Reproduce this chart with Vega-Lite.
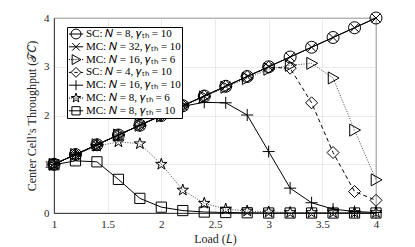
{
  "$schema": "https://vega.github.io/schema/vega-lite/v6.json",
  "width": 322,
  "height": 195,
  "autosize": "none",
  "padding": {"left": 54, "top": 18, "right": 39, "bottom": 34},
  "background": "white",
  "config": {
    "view": {"stroke": "#262626", "strokeWidth": 0.8},
    "font": "Liberation Serif",
    "axis": {
      "labelFont": "Liberation Serif",
      "titleFont": "Liberation Serif",
      "labelFontSize": 11,
      "titleFontSize": 12,
      "titleFontWeight": "normal",
      "labelColor": "#262626",
      "titleColor": "#262626",
      "domainColor": "#262626",
      "domainWidth": 0.8,
      "gridColor": "#dedede",
      "gridWidth": 0.6,
      "ticks": false,
      "labelPadding": 5,
      "format": "~g"
    }
  },
  "resolve": {"scale": {"shape": "independent"}, "legend": {"shape": "independent"}},
  "data": {
    "values": [
      {"s": "SC: 𝑁 = 8, 𝛾ₜₕ = 10", "L": 1.0, "T": 1.0},
      {"s": "SC: 𝑁 = 8, 𝛾ₜₕ = 10", "L": 1.2, "T": 1.2},
      {"s": "SC: 𝑁 = 8, 𝛾ₜₕ = 10", "L": 1.4, "T": 1.4},
      {"s": "SC: 𝑁 = 8, 𝛾ₜₕ = 10", "L": 1.6, "T": 1.6},
      {"s": "SC: 𝑁 = 8, 𝛾ₜₕ = 10", "L": 1.8, "T": 1.8},
      {"s": "SC: 𝑁 = 8, 𝛾ₜₕ = 10", "L": 2.0, "T": 2.0},
      {"s": "SC: 𝑁 = 8, 𝛾ₜₕ = 10", "L": 2.2, "T": 2.2},
      {"s": "SC: 𝑁 = 8, 𝛾ₜₕ = 10", "L": 2.4, "T": 2.4},
      {"s": "SC: 𝑁 = 8, 𝛾ₜₕ = 10", "L": 2.6, "T": 2.6},
      {"s": "SC: 𝑁 = 8, 𝛾ₜₕ = 10", "L": 2.8, "T": 2.8},
      {"s": "SC: 𝑁 = 8, 𝛾ₜₕ = 10", "L": 3.0, "T": 3.0},
      {"s": "SC: 𝑁 = 8, 𝛾ₜₕ = 10", "L": 3.2, "T": 3.2},
      {"s": "SC: 𝑁 = 8, 𝛾ₜₕ = 10", "L": 3.4, "T": 3.4},
      {"s": "SC: 𝑁 = 8, 𝛾ₜₕ = 10", "L": 3.6, "T": 3.6},
      {"s": "SC: 𝑁 = 8, 𝛾ₜₕ = 10", "L": 3.8, "T": 3.8},
      {"s": "SC: 𝑁 = 8, 𝛾ₜₕ = 10", "L": 4.0, "T": 4.0},
      {"s": "MC: 𝑁 = 32, 𝛾ₜₕ = 10", "L": 1.0, "T": 1.0},
      {"s": "MC: 𝑁 = 32, 𝛾ₜₕ = 10", "L": 1.2, "T": 1.2},
      {"s": "MC: 𝑁 = 32, 𝛾ₜₕ = 10", "L": 1.4, "T": 1.4},
      {"s": "MC: 𝑁 = 32, 𝛾ₜₕ = 10", "L": 1.6, "T": 1.6},
      {"s": "MC: 𝑁 = 32, 𝛾ₜₕ = 10", "L": 1.8, "T": 1.8},
      {"s": "MC: 𝑁 = 32, 𝛾ₜₕ = 10", "L": 2.0, "T": 2.0},
      {"s": "MC: 𝑁 = 32, 𝛾ₜₕ = 10", "L": 2.2, "T": 2.2},
      {"s": "MC: 𝑁 = 32, 𝛾ₜₕ = 10", "L": 2.4, "T": 2.4},
      {"s": "MC: 𝑁 = 32, 𝛾ₜₕ = 10", "L": 2.6, "T": 2.6},
      {"s": "MC: 𝑁 = 32, 𝛾ₜₕ = 10", "L": 2.8, "T": 2.8},
      {"s": "MC: 𝑁 = 32, 𝛾ₜₕ = 10", "L": 3.0, "T": 3.0},
      {"s": "MC: 𝑁 = 32, 𝛾ₜₕ = 10", "L": 3.2, "T": 3.2},
      {"s": "MC: 𝑁 = 32, 𝛾ₜₕ = 10", "L": 3.4, "T": 3.4},
      {"s": "MC: 𝑁 = 32, 𝛾ₜₕ = 10", "L": 3.6, "T": 3.6},
      {"s": "MC: 𝑁 = 32, 𝛾ₜₕ = 10", "L": 3.8, "T": 3.8},
      {"s": "MC: 𝑁 = 32, 𝛾ₜₕ = 10", "L": 4.0, "T": 4.0},
      {"s": "MC: 𝑁 = 16, 𝛾ₜₕ = 6", "L": 1.0, "T": 1.0},
      {"s": "MC: 𝑁 = 16, 𝛾ₜₕ = 6", "L": 1.2, "T": 1.2},
      {"s": "MC: 𝑁 = 16, 𝛾ₜₕ = 6", "L": 1.4, "T": 1.4},
      {"s": "MC: 𝑁 = 16, 𝛾ₜₕ = 6", "L": 1.6, "T": 1.6},
      {"s": "MC: 𝑁 = 16, 𝛾ₜₕ = 6", "L": 1.8, "T": 1.8},
      {"s": "MC: 𝑁 = 16, 𝛾ₜₕ = 6", "L": 2.0, "T": 1.99},
      {"s": "MC: 𝑁 = 16, 𝛾ₜₕ = 6", "L": 2.2, "T": 2.19},
      {"s": "MC: 𝑁 = 16, 𝛾ₜₕ = 6", "L": 2.4, "T": 2.38},
      {"s": "MC: 𝑁 = 16, 𝛾ₜₕ = 6", "L": 2.6, "T": 2.58},
      {"s": "MC: 𝑁 = 16, 𝛾ₜₕ = 6", "L": 2.8, "T": 2.76},
      {"s": "MC: 𝑁 = 16, 𝛾ₜₕ = 6", "L": 3.0, "T": 2.95},
      {"s": "MC: 𝑁 = 16, 𝛾ₜₕ = 6", "L": 3.2, "T": 3.03},
      {"s": "MC: 𝑁 = 16, 𝛾ₜₕ = 6", "L": 3.4, "T": 3.07},
      {"s": "MC: 𝑁 = 16, 𝛾ₜₕ = 6", "L": 3.6, "T": 2.77},
      {"s": "MC: 𝑁 = 16, 𝛾ₜₕ = 6", "L": 3.8, "T": 1.7},
      {"s": "MC: 𝑁 = 16, 𝛾ₜₕ = 6", "L": 4.0, "T": 0.68},
      {"s": "SC: 𝑁 = 4, 𝛾ₜₕ = 10", "L": 1.0, "T": 1.0},
      {"s": "SC: 𝑁 = 4, 𝛾ₜₕ = 10", "L": 1.2, "T": 1.2},
      {"s": "SC: 𝑁 = 4, 𝛾ₜₕ = 10", "L": 1.4, "T": 1.4},
      {"s": "SC: 𝑁 = 4, 𝛾ₜₕ = 10", "L": 1.6, "T": 1.6},
      {"s": "SC: 𝑁 = 4, 𝛾ₜₕ = 10", "L": 1.8, "T": 1.8},
      {"s": "SC: 𝑁 = 4, 𝛾ₜₕ = 10", "L": 2.0, "T": 2.0},
      {"s": "SC: 𝑁 = 4, 𝛾ₜₕ = 10", "L": 2.2, "T": 2.2},
      {"s": "SC: 𝑁 = 4, 𝛾ₜₕ = 10", "L": 2.4, "T": 2.4},
      {"s": "SC: 𝑁 = 4, 𝛾ₜₕ = 10", "L": 2.6, "T": 2.6},
      {"s": "SC: 𝑁 = 4, 𝛾ₜₕ = 10", "L": 2.8, "T": 2.8},
      {"s": "SC: 𝑁 = 4, 𝛾ₜₕ = 10", "L": 3.0, "T": 2.99},
      {"s": "SC: 𝑁 = 4, 𝛾ₜₕ = 10", "L": 3.2, "T": 2.97},
      {"s": "SC: 𝑁 = 4, 𝛾ₜₕ = 10", "L": 3.4, "T": 2.26},
      {"s": "SC: 𝑁 = 4, 𝛾ₜₕ = 10", "L": 3.6, "T": 1.24},
      {"s": "SC: 𝑁 = 4, 𝛾ₜₕ = 10", "L": 3.8, "T": 0.44},
      {"s": "SC: 𝑁 = 4, 𝛾ₜₕ = 10", "L": 4.0, "T": 0.26},
      {"s": "MC: 𝑁 = 16, 𝛾ₜₕ = 10", "L": 1.0, "T": 1.0},
      {"s": "MC: 𝑁 = 16, 𝛾ₜₕ = 10", "L": 1.2, "T": 1.2},
      {"s": "MC: 𝑁 = 16, 𝛾ₜₕ = 10", "L": 1.4, "T": 1.4},
      {"s": "MC: 𝑁 = 16, 𝛾ₜₕ = 10", "L": 1.6, "T": 1.6},
      {"s": "MC: 𝑁 = 16, 𝛾ₜₕ = 10", "L": 1.8, "T": 1.8},
      {"s": "MC: 𝑁 = 16, 𝛾ₜₕ = 10", "L": 2.0, "T": 2.0},
      {"s": "MC: 𝑁 = 16, 𝛾ₜₕ = 10", "L": 2.2, "T": 2.19},
      {"s": "MC: 𝑁 = 16, 𝛾ₜₕ = 10", "L": 2.4, "T": 2.27},
      {"s": "MC: 𝑁 = 16, 𝛾ₜₕ = 10", "L": 2.6, "T": 2.26},
      {"s": "MC: 𝑁 = 16, 𝛾ₜₕ = 10", "L": 2.8, "T": 2.01},
      {"s": "MC: 𝑁 = 16, 𝛾ₜₕ = 10", "L": 3.0, "T": 1.26},
      {"s": "MC: 𝑁 = 16, 𝛾ₜₕ = 10", "L": 3.2, "T": 0.51},
      {"s": "MC: 𝑁 = 16, 𝛾ₜₕ = 10", "L": 3.4, "T": 0.21},
      {"s": "MC: 𝑁 = 16, 𝛾ₜₕ = 10", "L": 3.6, "T": 0.08},
      {"s": "MC: 𝑁 = 16, 𝛾ₜₕ = 10", "L": 3.8, "T": 0.03},
      {"s": "MC: 𝑁 = 16, 𝛾ₜₕ = 10", "L": 4.0, "T": 0.01},
      {"s": "MC: 𝑁 = 8, 𝛾ₜₕ = 6", "L": 1.0, "T": 1.0},
      {"s": "MC: 𝑁 = 8, 𝛾ₜₕ = 6", "L": 1.2, "T": 1.19},
      {"s": "MC: 𝑁 = 8, 𝛾ₜₕ = 6", "L": 1.4, "T": 1.37},
      {"s": "MC: 𝑁 = 8, 𝛾ₜₕ = 6", "L": 1.6, "T": 1.46},
      {"s": "MC: 𝑁 = 8, 𝛾ₜₕ = 6", "L": 1.8, "T": 1.42},
      {"s": "MC: 𝑁 = 8, 𝛾ₜₕ = 6", "L": 2.0, "T": 1.0},
      {"s": "MC: 𝑁 = 8, 𝛾ₜₕ = 6", "L": 2.2, "T": 0.47},
      {"s": "MC: 𝑁 = 8, 𝛾ₜₕ = 6", "L": 2.4, "T": 0.2},
      {"s": "MC: 𝑁 = 8, 𝛾ₜₕ = 6", "L": 2.6, "T": 0.08},
      {"s": "MC: 𝑁 = 8, 𝛾ₜₕ = 6", "L": 2.8, "T": 0.04},
      {"s": "MC: 𝑁 = 8, 𝛾ₜₕ = 6", "L": 3.0, "T": 0.02},
      {"s": "MC: 𝑁 = 8, 𝛾ₜₕ = 6", "L": 3.2, "T": 0.01},
      {"s": "MC: 𝑁 = 8, 𝛾ₜₕ = 6", "L": 3.4, "T": 0.01},
      {"s": "MC: 𝑁 = 8, 𝛾ₜₕ = 6", "L": 3.6, "T": 0.01},
      {"s": "MC: 𝑁 = 8, 𝛾ₜₕ = 6", "L": 3.8, "T": 0.01},
      {"s": "MC: 𝑁 = 8, 𝛾ₜₕ = 6", "L": 4.0, "T": 0.01},
      {"s": "MC: 𝑁 = 8, 𝛾ₜₕ = 10", "L": 1.0, "T": 0.99},
      {"s": "MC: 𝑁 = 8, 𝛾ₜₕ = 10", "L": 1.2, "T": 1.07},
      {"s": "MC: 𝑁 = 8, 𝛾ₜₕ = 10", "L": 1.4, "T": 1.05},
      {"s": "MC: 𝑁 = 8, 𝛾ₜₕ = 10", "L": 1.6, "T": 0.69},
      {"s": "MC: 𝑁 = 8, 𝛾ₜₕ = 10", "L": 1.8, "T": 0.3},
      {"s": "MC: 𝑁 = 8, 𝛾ₜₕ = 10", "L": 2.0, "T": 0.12},
      {"s": "MC: 𝑁 = 8, 𝛾ₜₕ = 10", "L": 2.2, "T": 0.05},
      {"s": "MC: 𝑁 = 8, 𝛾ₜₕ = 10", "L": 2.4, "T": 0.02},
      {"s": "MC: 𝑁 = 8, 𝛾ₜₕ = 10", "L": 2.6, "T": 0.01},
      {"s": "MC: 𝑁 = 8, 𝛾ₜₕ = 10", "L": 2.8, "T": 0.005},
      {"s": "MC: 𝑁 = 8, 𝛾ₜₕ = 10", "L": 3.0, "T": 0.0},
      {"s": "MC: 𝑁 = 8, 𝛾ₜₕ = 10", "L": 3.2, "T": 0.0},
      {"s": "MC: 𝑁 = 8, 𝛾ₜₕ = 10", "L": 3.4, "T": 0.0},
      {"s": "MC: 𝑁 = 8, 𝛾ₜₕ = 10", "L": 3.6, "T": 0.0},
      {"s": "MC: 𝑁 = 8, 𝛾ₜₕ = 10", "L": 3.8, "T": 0.0},
      {"s": "MC: 𝑁 = 8, 𝛾ₜₕ = 10", "L": 4.0, "T": 0.0}
    ]
  },
  "encoding": {
    "x": {
      "field": "L",
      "type": "quantitative",
      "scale": {"domain": [1, 4], "nice": false, "zero": false},
      "axis": {"values": [1, 1.5, 2, 2.5, 3, 3.5, 4], "title": "Load (𝐿)", "titlePadding": 4, "labelFlush": false}
    },
    "y": {
      "field": "T",
      "type": "quantitative",
      "scale": {"domain": [0, 4], "nice": false},
      "axis": {"values": [0, 1, 2, 3, 4], "title": "Center Cell’s Throughput (𝒯𝐶)", "titlePadding": 5, "labelFlush": false}
    }
  },
  "layer": [
    {
      "transform": [{"filter": {"field": "s", "oneOf": ["SC: 𝑁 = 8, 𝛾ₜₕ = 10", "MC: 𝑁 = 32, 𝛾ₜₕ = 10", "MC: 𝑁 = 16, 𝛾ₜₕ = 10", "MC: 𝑁 = 8, 𝛾ₜₕ = 10"]}}],
      "mark": {"type": "line", "color": "black", "strokeWidth": 1},
      "encoding": {"detail": {"field": "s", "type": "nominal"}}
    },
    {
      "transform": [{"filter": {"field": "s", "oneOf": ["MC: 𝑁 = 16, 𝛾ₜₕ = 6", "MC: 𝑁 = 8, 𝛾ₜₕ = 6"]}}],
      "mark": {"type": "line", "color": "#333333", "strokeWidth": 0.9, "strokeDash": [1, 1.5]},
      "encoding": {"detail": {"field": "s", "type": "nominal"}}
    },
    {
      "transform": [{"filter": {"field": "s", "equal": "SC: 𝑁 = 4, 𝛾ₜₕ = 10"}}],
      "mark": {"type": "line", "color": "black", "strokeWidth": 1, "strokeDash": [4, 3]},
      "encoding": {"detail": {"field": "s", "type": "nominal"}}
    },
    {
      "mark": {"type": "point", "filled": false, "color": "black", "strokeWidth": 1, "size": 144, "opacity": 1},
      "encoding": {
        "shape": {
          "field": "s",
          "type": "nominal",
          "scale": {
            "domain": ["MC: 𝑁 = 8, 𝛾ₜₕ = 10", "MC: 𝑁 = 8, 𝛾ₜₕ = 6", "MC: 𝑁 = 16, 𝛾ₜₕ = 10", "SC: 𝑁 = 4, 𝛾ₜₕ = 10", "MC: 𝑁 = 16, 𝛾ₜₕ = 6", "MC: 𝑁 = 32, 𝛾ₜₕ = 10", "SC: 𝑁 = 8, 𝛾ₜₕ = 10"],
            "range": [
              "M-0.85,-0.85H0.85V0.85H-0.85Z",
              "M0,-1L0.2245,-0.309L0.951,-0.309L0.363,0.118L0.588,0.809L0,0.382L-0.588,0.809L-0.363,0.118L-0.951,-0.309L-0.2245,-0.309Z",
              "M-1,0H1M0,-1V1",
              "M0,-1L1,0L0,1L-1,0Z",
              "M-0.8,-1L1,0L-0.8,1Z",
              "M-0.75,-0.75L0.75,0.75M-0.75,0.75L0.75,-0.75",
              "circle"
            ]
          },
          "legend": null
        }
      }
    },
    {
      "mark": {"type": "point", "filled": false, "color": "black", "strokeWidth": 1, "size": 121, "opacity": 0},
      "encoding": {
        "shape": {
          "field": "s",
          "type": "nominal",
          "scale": {
            "domain": ["SC: 𝑁 = 8, 𝛾ₜₕ = 10", "MC: 𝑁 = 32, 𝛾ₜₕ = 10", "MC: 𝑁 = 16, 𝛾ₜₕ = 6", "SC: 𝑁 = 4, 𝛾ₜₕ = 10", "MC: 𝑁 = 16, 𝛾ₜₕ = 10", "MC: 𝑁 = 8, 𝛾ₜₕ = 6", "MC: 𝑁 = 8, 𝛾ₜₕ = 10"],
            "range": [
              "M-1.3,0H1.3M0.9,0A0.9,0.9,0,1,1,-0.9,0A0.9,0.9,0,1,1,0.9,0",
              "M-1.3,0H1.3M-0.7,-0.7L0.7,0.7M-0.7,0.7L0.7,-0.7",
              "M-1.3,0H-1.1M-0.9,0H-0.7M-0.5,0H-0.3M-0.1,0H0.1M0.3,0H0.5M0.7,0H0.9M1.1,0H1.3M-0.7,-0.9L0.9,0L-0.7,0.9Z",
              "M-1.3,0H-0.85M-0.3,0H0.3M0.85,0H1.3M0,-0.9L0.9,0L0,0.9L-0.9,0Z",
              "M-1.3,0H1.3M0,-0.9V0.9",
              "M-1.3,0H-1.1M-0.9,0H-0.7M-0.5,0H-0.3M-0.1,0H0.1M0.3,0H0.5M0.7,0H0.9M1.1,0H1.3M0,-0.9L0.202,-0.278L0.856,-0.278L0.327,0.106L0.529,0.728L0,0.344L-0.529,0.728L-0.327,0.106L-0.856,-0.278L-0.202,-0.278Z",
              "M-1.3,0H1.3M-0.75,-0.75H0.75V0.75H-0.75Z"
            ]
          },
          "legend": {
            "title": null,
            "orient": "none",
            "legendX": 13,
            "legendY": 9,
            "strokeColor": "black",
            "fillColor": "white",
            "padding": 1,
            "symbolOffset": 2,
            "labelOffset": 4,
            "rowPadding": 0.8,
            "clipHeight": 12,
            "symbolSize": 121,
            "symbolStrokeWidth": 1,
            "symbolStrokeColor": "black",
            "symbolFillColor": "transparent",
            "symbolOpacity": 1,
            "labelFont": "Liberation Serif",
            "labelFontSize": 11,
            "labelColor": "black",
            "labelLimit": 300
          }
        }
      }
    }
  ]
}
